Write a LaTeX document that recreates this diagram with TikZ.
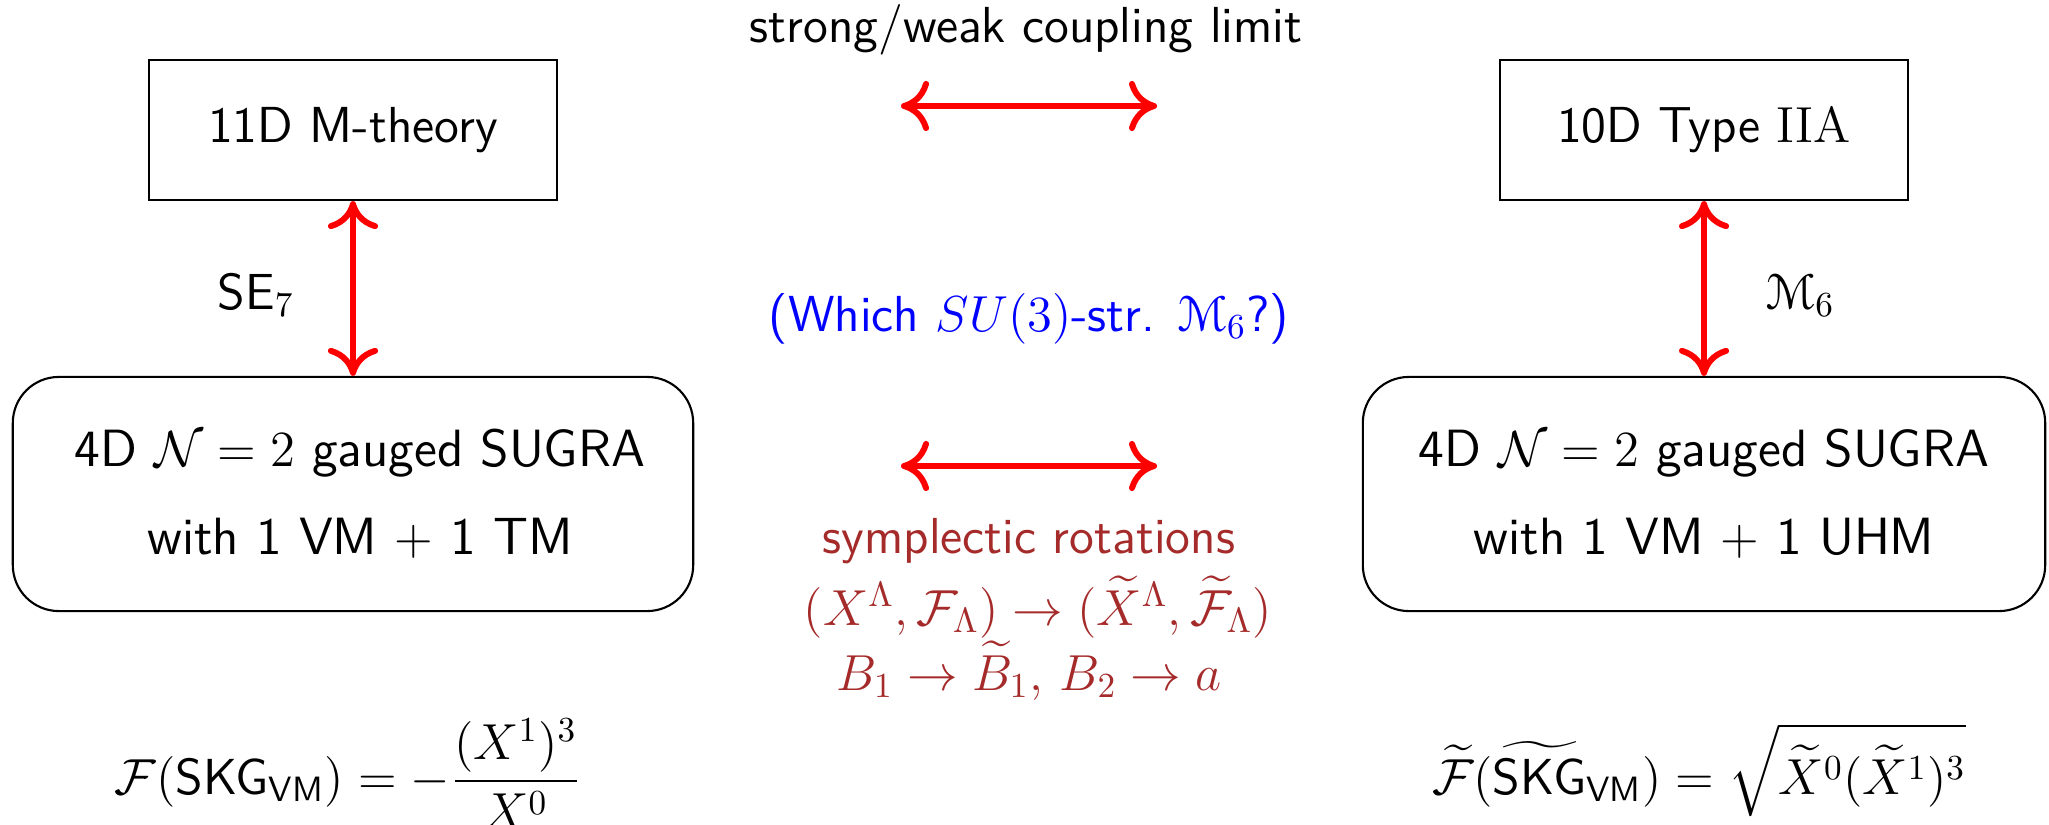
\documentclass[tikz,border=0pt]{standalone}
\usepackage{amsmath,amssymb}
\usepackage[mathscr]{eucal}
\usetikzlibrary{arrows.meta}
\definecolor{symp}{RGB}{165,42,42}
\tikzset{
  lbl/.style={font=\fontsize{14.4}{17.28}\selectfont\sffamily, inner sep=0pt},
  sqbox/.style={lbl, draw, line width=0.6pt, minimum height=1.4cm, minimum width=4.08cm},
  rbox/.style={lbl, font=\fontsize{14.9}{17.9}\selectfont\sffamily, draw, line width=0.6pt, rounded corners=0.46cm, minimum height=2.34cm, align=center},
  cmtip/.tip={Computer Modern Rightarrow[length=0.28cm,width=0.5cm]},
  dbl/.style={draw=red, line width=1.7pt, cmtip-cmtip},
}
\begin{document}
\begin{tikzpicture}[x=0.01cm,y=-0.01cm]
\useasboundingbox (0,0) rectangle (2049,824);
% boxes
\node[sqbox] (tl) at (353,130) {11D M-theory};
\node[sqbox] (tr) at (1704,130) {10D Type $\mathrm{IIA}$};
\node[rbox, minimum width=6.8cm] (rl) at (353,494) {\hspace*{0.14cm}4D $\mathcal{N}=2$ gauged SUGRA\\[7.2pt] \hspace*{0.14cm}with 1 VM $+$ 1 TM};
\node[rbox, minimum width=6.82cm] (rr) at (1704,494) {4D $\mathcal{N}=2$ gauged SUGRA\\[7.2pt] with 1 VM $+$ 1 UHM};
% free ends of horizontal arrows
\coordinate (h1a) at (901,106);
\coordinate (h1b) at (1157,106);
\coordinate (h2a) at (901,466);
\coordinate (h2b) at (1157,466);
% arrows
\draw[dbl] (h1a) -- (h1b);
\draw[dbl] (h2a) -- (h2b);
\draw[dbl] (tl) -- (rl);
\draw[dbl] (tr) -- (rr);
% labels
\node[lbl, anchor=base] (top) at (1026,42) {strong/weak coupling limit};
\node[lbl, anchor=base west] (se) at (217,309) {SE$_7$};
\node[lbl, anchor=base west] (m6) at (1765,309) {$\mathscr{M}_6$};
\node[lbl, anchor=base, text=blue] (q) at (1029,331) {(Which $SU(3)$-str. $\mathscr{M}_6$?)};
\node[lbl, anchor=base, text=symp] (s1) at (1029,553) {symplectic rotations};
\node[lbl, anchor=base, text=symp] (s2) at (1038,625) {$(X^\Lambda,\mathcal{F}_\Lambda)\to(\widetilde{X}^\Lambda,\widetilde{\mathcal{F}}_\Lambda)$};
\node[lbl, anchor=base, text=symp] (s3) at (1029,690) {$B_1\to\widetilde{B}_1,\, B_2\to a$};
% formulas
\node[lbl, anchor=base] (fl) at (348,794) {$\displaystyle \mathcal{F}(\textsf{SKG}_{\textsf{VM}}) = -\frac{(X^1)^3}{X^0}$};
\node[lbl, anchor=base] (fr) at (1699,794) {$\displaystyle \widetilde{\mathcal{F}}(\widetilde{\textsf{SKG}}_{\textsf{VM}}) = \sqrt{\widetilde{X}^0(\widetilde{X}^1)^3}$};
\end{tikzpicture}
\end{document}
